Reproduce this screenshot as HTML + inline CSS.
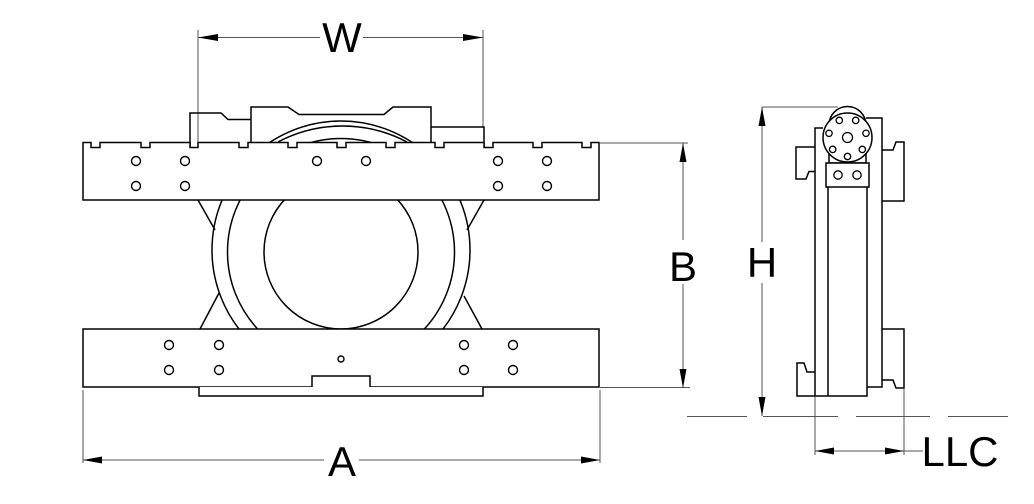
<!DOCTYPE html>
<html><head><meta charset="utf-8"><style>
html,body{margin:0;padding:0;background:#fff;}
svg{display:block;}
text{font-family:"Liberation Sans",Arial,sans-serif;font-size:42px;fill:#000;}
</style></head><body>
<svg width="1034" height="504" viewBox="0 0 1034 504" xmlns="http://www.w3.org/2000/svg">
<defs>
  <clipPath id="ringclip"><rect x="0" y="0" width="700" height="329"/></clipPath>
</defs>
<rect width="1034" height="504" fill="#fff"/>

<!-- dimension lines -->
<g stroke="#555" stroke-width="1" fill="none">
  <!-- W -->
  <line x1="198" y1="30" x2="198" y2="142"/>
  <line x1="483" y1="30" x2="483" y2="127"/>
  <line x1="198" y1="37.5" x2="320" y2="37.5"/>
  <line x1="363" y1="37.5" x2="483" y2="37.5"/>
  <!-- B -->
  <line x1="600" y1="143" x2="688" y2="143"/>
  <line x1="600" y1="387.5" x2="690" y2="387.5"/>
  <line x1="683" y1="143" x2="683" y2="240"/>
  <line x1="683" y1="284" x2="683" y2="388"/>
  <!-- A -->
  <line x1="83" y1="390" x2="83" y2="463"/>
  <line x1="600" y1="390" x2="600" y2="463"/>
  <line x1="83" y1="460" x2="324" y2="460"/>
  <line x1="359" y1="460" x2="600" y2="460"/>
  <!-- H -->
  <line x1="762" y1="107" x2="838" y2="107"/>
  <line x1="762" y1="107" x2="762" y2="242"/>
  <line x1="762" y1="283" x2="762" y2="416"/>
  <!-- ground -->
  <line x1="687" y1="416.5" x2="747" y2="416.5"/>
  <line x1="763" y1="416.5" x2="838" y2="416.5"/>
  <line x1="856" y1="416.5" x2="930" y2="416.5"/>
  <line x1="948" y1="416.5" x2="1008" y2="416.5"/>
  <!-- LLC -->
  <line x1="815" y1="397" x2="815" y2="455"/>
  <line x1="904" y1="389" x2="904" y2="455"/>
  <line x1="815" y1="451" x2="923" y2="451"/>
</g>
<!-- arrowheads -->
<g fill="#000">
  <polygon points="198,37.5 218,34 218,41"/>
  <polygon points="483,37.5 463,34 463,41"/>
  <polygon points="683,143 679.5,162 686.5,162"/>
  <polygon points="683,388 679.5,369 686.5,369"/>
  <polygon points="83,460 102,456.5 102,463.5"/>
  <polygon points="600,460 581,456.5 581,463.5"/>
  <polygon points="762,107 758.5,126 765.5,126"/>
  <polygon points="762,416 758.5,397 765.5,397"/>
  <polygon points="815,451 834,447.5 834,454.5"/>
  <polygon points="904,451 885,447.5 885,454.5"/>
</g>
<text x="342" y="52" text-anchor="middle" font-size="41">W</text>
<text x="683" y="281" text-anchor="middle">B</text>
<text x="762" y="277" text-anchor="middle">H</text>
<text x="342" y="476" text-anchor="middle">A</text>
<text x="960" y="466" text-anchor="middle">LLC</text>

<!-- front view -->
<g stroke="#000" stroke-width="1.5" fill="none" stroke-linejoin="miter">
  <!-- upper plates -->
  <path d="M190,147 V113 H221 L228,119.5 H251"/>
  <path d="M251,142 V107 H288 L299,114.5 H384 L393,107 H431 V142"/>
  <path d="M431,127 H484 V147"/>
  <!-- arcs / ring -->
  <g clip-path="url(#ringclip)">
    <circle cx="341" cy="250" r="129"/>
    <circle cx="341" cy="252" r="113.5"/>
    <circle cx="341" cy="252" r="77"/>
  </g>
  <path d="M278,142 A138,138 0 0 1 407,142"/>
  <!-- X lines -->
  <line x1="198" y1="200" x2="215" y2="230"/>
  <line x1="200" y1="329" x2="219" y2="293"/>
  <line x1="484" y1="200" x2="467" y2="230"/>
  <line x1="482" y1="329" x2="464" y2="296"/>
</g>
<g stroke="#000" stroke-width="1.5" fill="#fff">
  <!-- top bar with notches -->
  <path d="M83,200 V142.5 H91 V147.5 H100 V142.5 H141 V147.5 H150 V142.5 H190 V147.5 H198 V142.5 H239 V147.5 H248 V142.5 H288 V147.5 H297 V142.5 H337 V147.5 H346 V142.5 H386 V147.5 H395 V142.5 H435 V147.5 H444 V142.5 H484 V147.5 H493 V142.5 H533 V147.5 H542 V142.5 H582 V147.5 H591 V142.5 H599 V200 Z"/>
  <!-- bottom bar -->
  <path d="M83,329 H599 V387 H370 V376 H312 V387 H83 Z"/>
  <path d="M199,387 V396 H483 V387"/>
</g>
<g stroke="#000" stroke-width="1.4" fill="none">
  <circle cx="136" cy="161" r="4.5"/><circle cx="185" cy="161" r="4.5"/>
  <circle cx="317" cy="161" r="4.5"/><circle cx="366" cy="161" r="4.5"/>
  <circle cx="498" cy="161" r="4.5"/><circle cx="547" cy="161" r="4.5"/>
  <circle cx="136" cy="186" r="4.5"/><circle cx="185" cy="186" r="4.5"/>
  <circle cx="498" cy="186" r="4.5"/><circle cx="547" cy="186" r="4.5"/>
  <circle cx="169" cy="345" r="4.5"/><circle cx="219" cy="345" r="4.5"/>
  <circle cx="464" cy="345" r="4.5"/><circle cx="513" cy="345" r="4.5"/>
  <circle cx="169" cy="370" r="4.5"/><circle cx="219" cy="370" r="4.5"/>
  <circle cx="464" cy="370" r="4.5"/><circle cx="513" cy="370" r="4.5"/>
  <circle cx="341" cy="359" r="3"/>
</g>

<!-- side view -->
<g stroke="#000" stroke-width="1.5" fill="none">
  <path d="M815,147 H796 V179 H806 L809,171.5 H815"/>
  <path d="M815,396 H797 V363 H804 L807,372 H815"/>
  <path d="M823,128 H815 V396 H867 V187"/>
  <line x1="828" y1="187" x2="828" y2="396"/>
  <path d="M866,118 H882 V387 H867"/>
  <path d="M882,150 H893 L896,142 H904 V201 H882"/>
  <path d="M882,329 H904 V388 H896 L893,380 H882"/>
</g>
<g stroke="#000" stroke-width="1.5" fill="#fff">
  <path d="M829,163 V125 A18.5,18.5 0 0 1 866,125 V163 Z"/>
  <circle cx="847.5" cy="137.5" r="24.5"/>
  <rect x="826" y="163" width="43" height="24"/>
</g>
<g stroke="#000" stroke-width="1.3" fill="none">
  <circle cx="847.5" cy="137.5" r="5"/>
  <circle cx="847.5" cy="156.5" r="3.2"/>
  <circle cx="862.3" cy="149.4" r="3.2"/>
  <circle cx="832.7" cy="149.4" r="3.2"/>
  <circle cx="866" cy="133.3" r="3.2"/>
  <circle cx="829" cy="133.3" r="3.2"/>
  <circle cx="855.7" cy="120.4" r="3.2"/>
  <circle cx="839.3" cy="120.4" r="3.2"/>
  <circle cx="838" cy="175" r="4.2"/>
  <circle cx="857" cy="175" r="4.2"/>
</g>
</svg>
</body></html>
